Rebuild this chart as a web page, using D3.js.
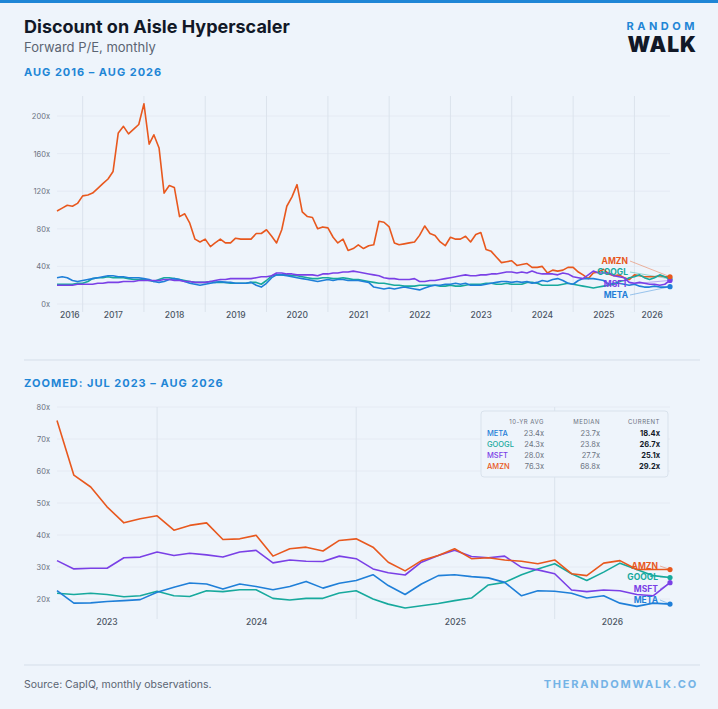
<!DOCTYPE html>
<html>
<head>
<meta charset="utf-8">
<script src="https://cdn.jsdelivr.net/npm/d3@7"></script>
<style>
  body { margin: 0; background: #fff; font-family: Inter, "Noto Sans", sans-serif; }
  svg text { font-family: Inter, "Noto Sans", sans-serif; }
</style>
</head>
<body>
<svg id="chart" width="718" height="709"></svg>
<script>
var TICKERS = ["META", "GOOGL", "MSFT", "AMZN"];
var COLORS = { META: "#1f7fd8", GOOGL: "#17a99d", MSFT: "#7a40e6", AMZN: "#e8581e" };

// full history, monthly from Aug 2016 (5 + 9*12 + 8 = 121 points)
var fullAMZN = [99,102,105,104,107, 115,116,118,123,128,133,141,182,189,181,186,191,
  213,170,180,166,118,126,124,93,96,86,69,66, 69,61,65,69,65,65,70,69,69,69,75,75,
  79,72,65,79,104,114,127,98,93,92,80,82, 81,71,65,69,57,59,63,59,62,63,88,87,
  82,65,63,64,65,66,73,83,75,73,66,62, 71,69,69,72,66,74,76,58,56,50,44,45,
  46,41,42,43,39,39,40,33,36,35,36,39, 39,34,31,27,33,34,37,32,30,31,28,26,
  31,30,29,29,29,30,29,29];
var fullMETA = [28,29,28,25,24, 25,26,27,28,29,30,30,29,29,28,28,28,
  27,26,24,23,24,26,27,26,24,22,21,20, 21,22,23,24,23,23,22,22,22,23,20,18,
  22,28,31,31,30,29,28,27,26,25,24,25, 26,25,26,26,25,25,25,24,23,18,17,16,
  17,16,17,18,17,16,15,17,19,20,20,21, 21,22,21,22,20,20,20,21,22,23,24,24,
  23,24,23,24,22,23,25,24,26,27,25,22, 21,25,27,27,27,26,25,21,22,22,21,20,
  21,19,18,18,19,18,18,18.4];
var fullGOOGL = [21,21,21,21,22, 22,24,27,28,28,29,28,28,28,27,26,26,
  26,25,24,26,28,28,27,26,25,24,23,23, 23,24,23,23,23,22,22,22,22,23,23,21,
  25,30,31,31,31,30,30,29,28,27,27,28, 28,27,27,28,27,26,26,25,24,23,22,22,
  21,20,20,19,19,19,20,20,20,20,19,19, 20,19,19,20,21,21,21,22,22,21,21,22,
  21,21,21,23,23,22,20,20,20,20,21,22, 21,20,19,18,17,18,19,20,21,24,25,28,
  29,31,28,26,28,31,29,26.7];
var fullMSFT = [20,20,20,20,21, 21,21,21,22,22,23,23,23,24,24,24,25,
  25,25,25,25,26,26,25,25,24,24,23,23, 23,24,25,26,26,27,27,27,27,27,28,29,
  29,30,33,33,32,32,31,31,31,31,30,32, 32,33,33,34,34,35,34,33,32,31,30,28,
  27,27,26,26,26,27,24,24,25,25,26,27, 28,29,30,31,30,30,31,31,32,32,33,34,
  34,33,34,33,35,33,32,32,32,31,33,32, 29,28,27,31,35,33,33,33,30,29,28,23,
  22,23,22,21,21,20,21,25.1];

// zoomed window, monthly from Jul 2023 (38 points)
var zoomAMZN = [75.8,58.7,55,48.8,43.8,45.1,46,41.5,43,43.8,38.6,38.8,39.9,33.4,35.7,36.2,35,38.3,38.8,36.2,
  31.5,28.8,32,33.6,35.7,32.6,32.9,32.2,31.8,31,32.2,27.9,27.3,31.2,32,29.2,29.2,29.2];
var zoomMSFT = [32,29.4,29.6,29.6,32.9,33.1,34.7,33.6,34.3,33.8,33.1,34.7,35.2,31.3,32.2,31.8,31.7,33.4,32.6,29.4,
  28.2,27.5,31.5,33.6,35.2,33.3,32.9,33.4,29.9,29.1,27.9,22.8,22.3,22.8,22.6,21.4,21,25.1];
var zoomMETA = [22.6,18.7,18.8,19.2,19.5,19.8,22.1,23.7,25,24.7,23.1,24.7,23.9,22.9,23.9,25.5,23.4,24.9,25.8,27.6,
  24.2,21.4,24.7,27.3,27.6,27,26.6,25.2,21,22.6,22.4,21.8,20.3,21,18.7,17.7,18.7,18.4];
var zoomGOOGL = [21.8,21.4,21.8,21.4,20.7,21,22.4,21,20.8,22.6,22.3,22.9,22.9,20.2,19.7,20.2,20.2,21.9,22.6,20,
  18.4,17.2,17.9,18.6,19.5,20.3,24.4,25.2,27.6,29.4,31,27.9,25.8,28.4,31.2,29.2,27.3,26.7];

var tableCols = ["10-YR AVG", "MEDIAN", "CURRENT"];
var tableAvg = ["23.4x", "24.3x", "28.0x", "76.3x"];
var tableMedian = ["23.7x", "23.8x", "27.7x", "68.8x"];
var tableCurrent = ["18.4x", "26.7x", "25.1x", "29.2x"];

var fullTicks = [0, 40, 80, 120, 160, 200];
var zoomTicks = [20, 30, 40, 50, 60, 70, 80];

var svg = d3.select("#chart");
svg.append("rect").attr("width", 718).attr("height", 709).attr("fill", "#eef4fb");
svg.append("rect").attr("width", 718).attr("height", 3).attr("fill", "#1f86d6");

svg.append("text").attr("x", 24).attr("y", 33).attr("font-size", 18).attr("font-weight", 700)
  .attr("fill", "#111827").text("Discount on Aisle Hyperscaler");
svg.append("text").attr("x", 24).attr("y", 52).attr("font-size", 13).attr("fill", "#5b6472")
  .text("Forward P/E, monthly");
svg.append("text").attr("x", 698).attr("y", 30).attr("text-anchor", "end").attr("font-size", 11)
  .attr("font-weight", 700).attr("letter-spacing", 3.5).attr("fill", "#1f86d6").text("RANDOM");
svg.append("text").attr("x", 697).attr("y", 52).attr("text-anchor", "end").attr("font-size", 21)
  .attr("font-weight", 900).attr("letter-spacing", 1).attr("fill", "#111827").text("WALK");

function sectionLabel(y, txt) {
  svg.append("text").attr("x", 24).attr("y", y).attr("font-size", 11).attr("font-weight", 700)
    .attr("letter-spacing", 1).attr("fill", "#1f86d6").text(txt);
}
sectionLabel(76, "AUG 2016 \u2013 AUG 2026");
sectionLabel(387, "ZOOMED: JUL 2023 \u2013 AUG 2026");

svg.append("line").attr("x1", 24).attr("x2", 700).attr("y1", 360).attr("y2", 360).attr("stroke", "#d5dee9");
svg.append("line").attr("x1", 24).attr("x2", 700).attr("y1", 665).attr("y2", 665).attr("stroke", "#d5dee9");
svg.append("text").attr("x", 24).attr("y", 688).attr("font-size", 10.5).attr("fill", "#5b6472")
  .text("Source: CapIQ, monthly observations.");
svg.append("text").attr("x", 698).attr("y", 688).attr("text-anchor", "end").attr("font-size", 11)
  .attr("font-weight", 700).attr("letter-spacing", 1.8).attr("fill", "#74b3e6").text("THERANDOMWALK.CO");

function monthsFrom(y0, m0, n) {
  var out = [];
  for (var i = 0; i < n; i++) out.push(new Date(y0, m0 + i, 1));
  return out;
}

function drawPanel(opt) {
  var x = d3.scaleTime().domain([opt.dates[0], opt.dates[opt.dates.length - 1]]).range([57, 670]);
  var y = d3.scaleLinear().domain(opt.yDomain).range([opt.bottom, opt.top]);
  var g = svg.append("g");
  // horizontal grid
  opt.ticks.forEach(function (t) {
    g.append("line").attr("x1", 57).attr("x2", 670).attr("y1", y(t)).attr("y2", y(t))
      .attr("stroke", "#e2e9f2").attr("stroke-width", 0.8);
    g.append("text").attr("x", 50).attr("y", y(t) + 3).attr("text-anchor", "end").attr("font-size", 7.5)
      .attr("fill", "#6b7280").text(t + "x");
  });
  // year boundaries
  var years = d3.timeYear.range(d3.timeYear.ceil(x.domain()[0]), x.domain()[1]);
  years.forEach(function (d) {
    g.append("line").attr("x1", x(d)).attr("x2", x(d)).attr("y1", opt.gridTop).attr("y2", opt.axisY + 8)
      .attr("stroke", "#dbe3ec").attr("stroke-width", 1);
  });
  var bounds = [x.domain()[0]].concat(years).concat([x.domain()[1]]);
  for (var i = 0; i < bounds.length - 1; i++) {
    var mid = new Date((bounds[i].getTime() + bounds[i + 1].getTime()) / 2);
    g.append("text").attr("x", x(mid)).attr("y", opt.axisY + 14).attr("text-anchor", "middle")
      .attr("font-size", 8.5).attr("font-weight", 500).attr("fill", "#4b5563")
      .text(bounds[i].getFullYear());
  }
  var line = d3.line().x(function (d, i) { return x(opt.dates[i]); }).y(function (d) { return y(d); });
  opt.order.forEach(function (k) {
    g.append("path").datum(opt.series[k]).attr("fill", "none").attr("stroke", COLORS[k])
      .attr("stroke-width", 1.6).attr("stroke-linejoin", "round").attr("d", line);
  });
  TICKERS.forEach(function (k) {
    var s = opt.series[k];
    var ex = x(opt.dates[s.length - 1]), ey = y(s[s.length - 1]);
    var lp = opt.labels[k];
    g.append("line").attr("x1", lp[0] + 2).attr("y1", lp[1] - 3).attr("x2", ex).attr("y2", ey)
      .attr("stroke", COLORS[k]).attr("stroke-width", 0.7).attr("opacity", 0.6);
    g.append("circle").attr("cx", ex).attr("cy", ey).attr("r", 2.6).attr("fill", COLORS[k]);
    g.append("text").attr("x", lp[0]).attr("y", lp[1]).attr("text-anchor", "end").attr("font-size", 8.5)
      .attr("font-weight", 700).attr("fill", COLORS[k]).text(k);
  });
}

drawPanel({
  dates: monthsFrom(2016, 7, fullAMZN.length),
  yDomain: [0, 200], top: 116, bottom: 304, gridTop: 96, axisY: 304,
  ticks: fullTicks,
  series: { META: fullMETA, GOOGL: fullGOOGL, MSFT: fullMSFT, AMZN: fullAMZN },
  order: ["AMZN", "GOOGL", "META", "MSFT"],
  labels: { AMZN: [628, 264], GOOGL: [628, 275], MSFT: [628, 287], META: [628, 298] }
});

drawPanel({
  dates: monthsFrom(2023, 6, zoomAMZN.length),
  yDomain: [20, 80], top: 407, bottom: 599, gridTop: 407, axisY: 611,
  ticks: zoomTicks,
  series: { META: zoomMETA, GOOGL: zoomGOOGL, MSFT: zoomMSFT, AMZN: zoomAMZN },
  order: ["GOOGL", "META", "MSFT", "AMZN"],
  labels: { AMZN: [658, 569], GOOGL: [658, 580], MSFT: [658, 592], META: [658, 603] }
});

// stats table
var tb = svg.append("g").attr("transform", "translate(481,411)");
tb.append("rect").attr("width", 187).attr("height", 66).attr("rx", 3).attr("fill", "#eef4fb")
  .attr("stroke", "#d9e2ec");
var colX = [63, 119, 179];
tableCols.forEach(function (c, i) {
  tb.append("text").attr("x", colX[i]).attr("y", 13).attr("text-anchor", "end").attr("font-size", 6)
    .attr("letter-spacing", 0.5).attr("fill", "#6b7280").text(c);
});
TICKERS.forEach(function (k, r) {
  var yy = 25 + r * 11;
  tb.append("text").attr("x", 6).attr("y", yy).attr("font-size", 7.5).attr("font-weight", 500)
    .attr("fill", COLORS[k]).text(k);
  [tableAvg[r], tableMedian[r], tableCurrent[r]].forEach(function (v, i) {
    tb.append("text").attr("x", colX[i]).attr("y", yy).attr("text-anchor", "end").attr("font-size", 7.5)
      .attr("font-weight", i === 2 ? 700 : 400).attr("fill", i === 2 ? "#111827" : "#6b7280").text(v);
  });
});
</script>
</body>
</html>
